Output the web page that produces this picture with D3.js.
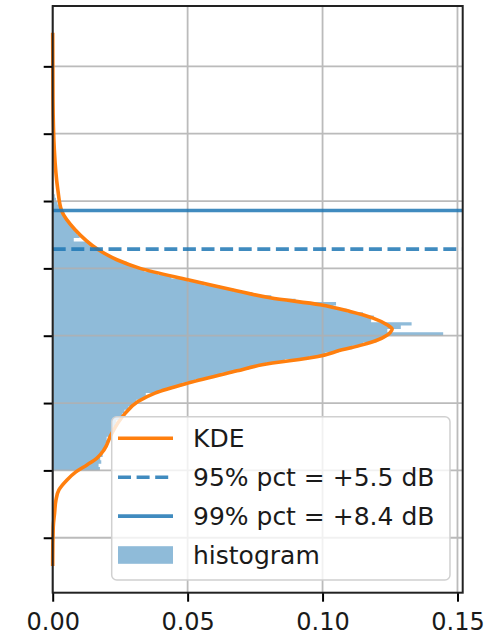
<!DOCTYPE html>
<html>
<head>
<meta charset="utf-8">
<script src="https://cdn.jsdelivr.net/npm/d3@7"></script>
<style>
  body { margin: 0; background: #fff; }
  text { font-family: "DejaVu Sans", sans-serif; fill: #1a1a1a; }
</style>
</head>
<body>
<svg id="chart" width="492" height="637"></svg>
<script>
// KDE curve, level in dB vs density
const kdeLevels = [-22.1, -21.65, -19.2, -18.16, -17.2, -16.45, -15.71, -15.11, -14.59, -14.08,
  -13.48, -12.36, -10.88, -9.89, -9.26, -8.52, -7.61, -7.16, -6.55, -6.05,
  -5.68, -5.30, -4.78, -4.51, -4.19, -3.69, -3.20, -2.70, -2.18, -1.59,
  -0.85, 0, 0.64, 1.46, 2.87, 4.28, 5.84, 8.81, 12.53, 17.5];
const kdeDensity = [0, 0, 0.0002, 0.0007, 0.0012, 0.0023, 0.0053, 0.0086, 0.0127, 0.0164,
  0.0190, 0.0216, 0.0264, 0.0316, 0.0379, 0.0501, 0.0683, 0.0776, 0.0983, 0.1072,
  0.1147, 0.1206, 0.1250, 0.1258, 0.1239, 0.1187, 0.1102, 0.0991, 0.0806, 0.0665,
  0.0501, 0.0324, 0.0238, 0.0164, 0.0083, 0.0033, 0.0019, 0.0006, 0.0001, 0];

// histogram, bins of 0.25 dB starting at -15 dB
const histStart = -15;
const histBinWidth = 0.25;
const histDensity = [
  0.0175, 0.0170, 0.0180, 0.0176, 0.0185, 0.0182, 0.0192, 0.0196, 0.0203, 0.0200,
  0.0214, 0.0219, 0.0224, 0.0232, 0.0236, 0.0250, 0.0258, 0.0266, 0.0280, 0.0295,
  0.0310, 0.0340, 0.0345, 0.0400, 0.0440, 0.0480, 0.0528, 0.0575, 0.0625, 0.0680,
  0.0728, 0.0790, 0.0860, 0.0950, 0.1010, 0.1060, 0.1110, 0.1150, 0.1200, 0.1225,
  0.1447, 0.1240, 0.1290, 0.1330, 0.1180, 0.1190, 0.1150, 0.1090, 0.1040, 0.1050,
  0.0900, 0.0810, 0.0740, 0.0670, 0.0620, 0.0560, 0.0500, 0.0440, 0.0390, 0.0340,
  0.0305, 0.0275, 0.0240, 0.0215, 0.0190, 0.0170, 0.0150, 0.0135, 0.0078, 0.0100,
  0.0090, 0.0082, 0.0072, 0.0062, 0.0052, 0.0045, 0.0038, 0.0030, 0.0024, 0.0018,
  0.0012, 0.0008, 0.0005, 0.0004];

// percentile lines
const pctLevels = [1.43, 4.30];
const pctLabels = ["95% pct = +5.5 dB", "99% pct = +8.4 dB"];
const pctDashed = [true, false];

const xTicks = [0, 0.05, 0.10, 0.15];
const yTicks = [-20, -15, -10, -5, 0, 5, 10, 15];

const blue = "#1f77b4", orange = "#ff7f0e", histFill = "rgb(143,187,217)";
const margin = {left: 52.7, right: 29.3, top: 6, bottom: 44.3};
const W = 492, H = 637;
const iw = W - margin.left - margin.right, ih = H - margin.top - margin.bottom;

const svg = d3.select("#chart");
const g = svg.append("g").attr("transform", `translate(${margin.left},${margin.top})`);

const x = d3.scaleLinear().domain([0, d3.max(histDensity) * 1.05]).range([0, iw]);
const [lo, hi] = d3.extent(kdeLevels);
const pad = (hi - lo) * 0.05;
const y = d3.scaleLinear().domain([lo - pad, hi + pad]).range([ih, 0]);

// histogram as one step outline so bins do not show seams
const hp = d3.path();
hp.moveTo(0, y(histStart));
histDensity.forEach((v, i) => {
  const b0 = histStart + i * histBinWidth, b1 = b0 + histBinWidth;
  hp.lineTo(x(v), y(b0));
  hp.lineTo(x(v), y(b1));
});
hp.lineTo(0, y(histStart + histDensity.length * histBinWidth));
hp.closePath();
g.append("path").attr("d", hp.toString()).attr("fill", histFill);

// grid
const grid = g.append("g").attr("stroke", "#b0b0b0").attr("stroke-width", 1.8).attr("opacity", 0.85);
grid.selectAll(".gx").data(xTicks).enter().append("line")
  .attr("x1", d => x(d)).attr("x2", d => x(d)).attr("y1", 0).attr("y2", ih);
grid.selectAll(".gy").data(yTicks).enter().append("line")
  .attr("x1", 0).attr("x2", iw).attr("y1", d => y(d)).attr("y2", d => y(d));

// KDE
const line = d3.line()
  .x((d, i) => x(kdeDensity[i]))
  .y(d => y(d))
  .curve(d3.curveMonotoneY);
g.append("path")
  .attr("d", line(kdeLevels))
  .attr("fill", "none")
  .attr("stroke", orange)
  .attr("stroke-width", 3.6);

// percentile lines
g.selectAll(".pct").data(pctLevels).enter().append("line")
  .attr("x1", 0).attr("x2", iw)
  .attr("y1", d => y(d)).attr("y2", d => y(d))
  .attr("stroke", blue)
  .attr("stroke-width", 3.6)
  .attr("stroke-opacity", 0.85)
  .attr("stroke-dasharray", (d, i) => pctDashed[i] ? "13,5.6" : null);

// axes
const xAxis = d3.axisBottom(x).tickValues(xTicks).tickFormat(d3.format(".2f"))
  .tickSize(9).tickPadding(11);
const gx = g.append("g").attr("transform", `translate(0,${ih})`).call(xAxis);
gx.select(".domain").remove();
gx.selectAll("line").attr("stroke", "#000").attr("stroke-width", 2);
gx.selectAll("text").attr("font-size", 24).attr("fill", "#1a1a1a");

const yAxis = d3.axisLeft(y).tickValues(yTicks).tickFormat("").tickSize(9);
const gy = g.append("g").call(yAxis);
gy.select(".domain").remove();
gy.selectAll("line").attr("stroke", "#000").attr("stroke-width", 2);

// frame
g.append("rect").attr("x", 0).attr("y", 0).attr("width", iw).attr("height", ih)
  .attr("fill", "none").attr("stroke", "#222").attr("stroke-width", 2);

// legend
const leg = svg.append("g").attr("transform", "translate(111.7,416.7)");
leg.append("rect").attr("width", 338.3).attr("height", 163.3).attr("rx", 5)
  .attr("fill", "#fff").attr("fill-opacity", 0.8)
  .attr("stroke", "#d0d0d0").attr("stroke-width", 1.5);
const items = [
  {label: "KDE", type: "line", color: orange, dash: null},
  {label: pctLabels[0], type: "line", color: blue, dash: "13,5.6"},
  {label: pctLabels[1], type: "line", color: blue, dash: null},
  {label: "histogram", type: "patch", color: histFill}
];
const rowY = d3.scaleLinear().domain([0, 3]).range([21.6, 138.3]);
items.forEach((it, i) => {
  const cy = rowY(i);
  if (it.type === "line") {
    leg.append("line").attr("x1", 6.3).attr("x2", 61.3).attr("y1", cy).attr("y2", cy)
      .attr("stroke", it.color).attr("stroke-width", 3.6)
      .attr("stroke-opacity", it.color === blue ? 0.85 : 1)
      .attr("stroke-dasharray", it.dash);
  } else {
    leg.append("rect").attr("x", 6.3).attr("y", cy - 8.8).attr("width", 55).attr("height", 17.6)
      .attr("fill", it.color);
  }
  leg.append("text").attr("x", 81.3).attr("y", cy + 9)
    .attr("font-size", 25).text(it.label);
});
</script>
</body>
</html>
